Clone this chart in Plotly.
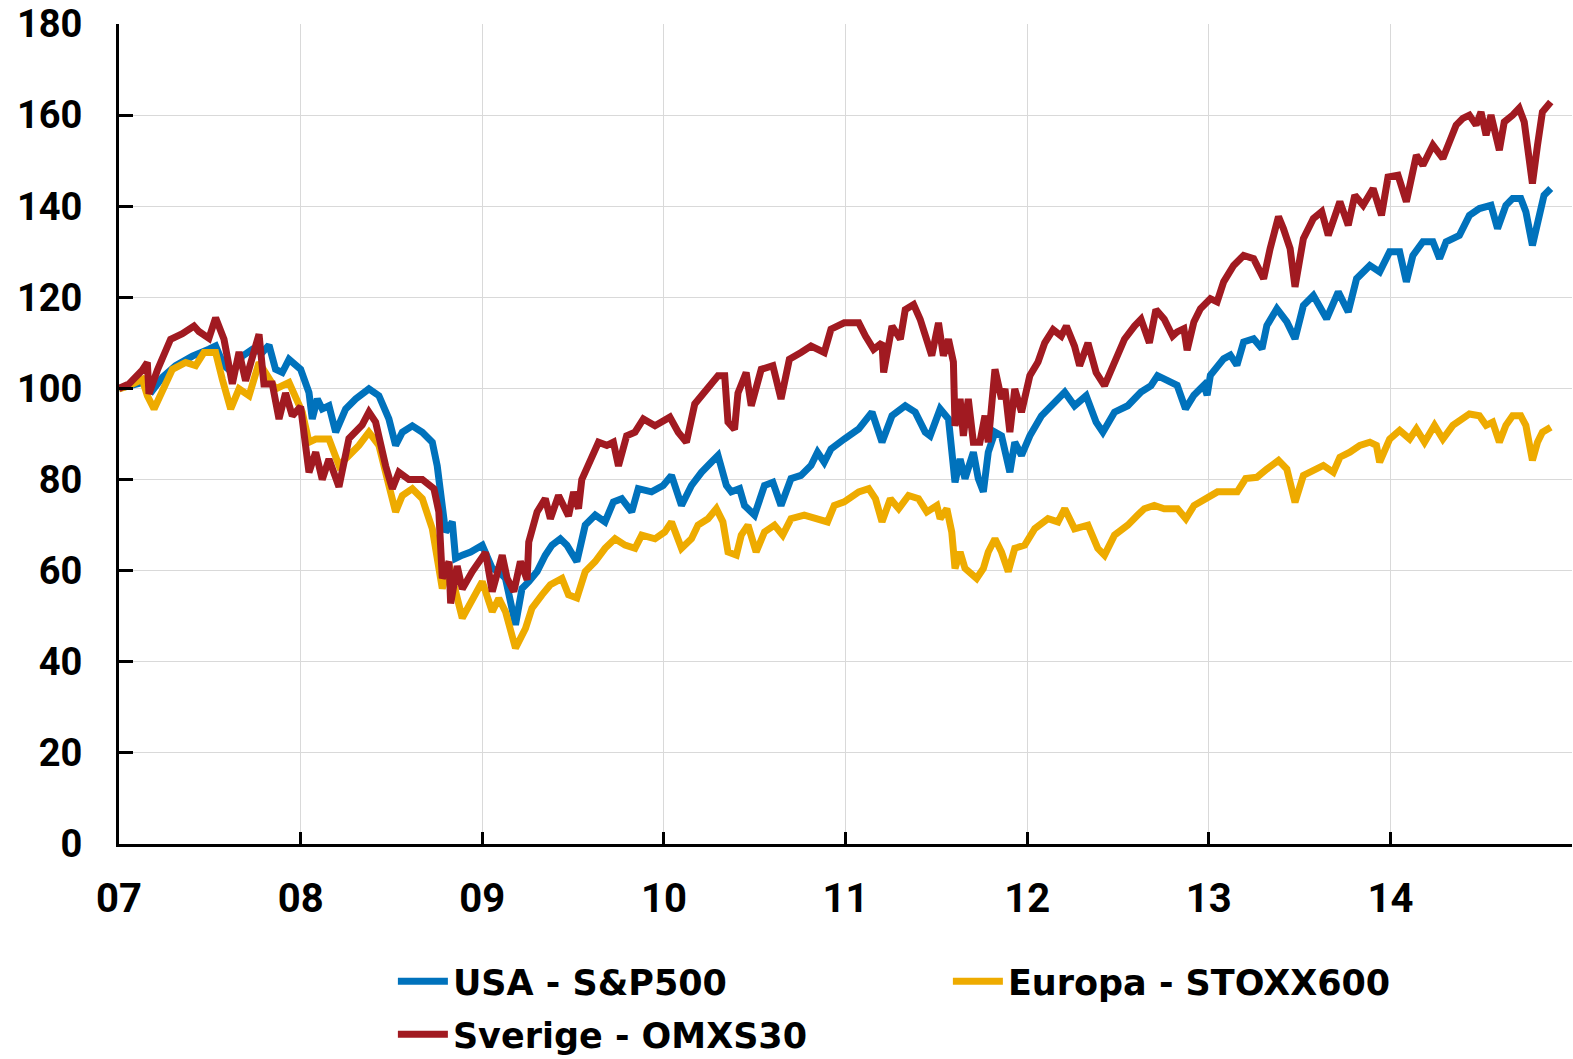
import plotly.graph_objects as go

# ---- data (x in fractional years) ----
usa_t = [2007.000, 2007.055, 2007.128, 2007.183, 2007.240, 2007.312, 2007.404, 2007.495, 2007.532, 2007.578,
         2007.624, 2007.679, 2007.734, 2007.789, 2007.826, 2007.862, 2007.899, 2007.936, 2007.972, 2008.000,
         2008.046, 2008.064, 2008.092, 2008.119, 2008.156, 2008.193, 2008.248, 2008.303, 2008.376, 2008.431,
         2008.486, 2008.523, 2008.560, 2008.615, 2008.670, 2008.725, 2008.752, 2008.780, 2008.798, 2008.835,
         2008.853, 2008.890, 2008.936, 2009.000, 2009.055, 2009.091, 2009.128, 2009.183, 2009.219, 2009.256,
         2009.302, 2009.347, 2009.384, 2009.430, 2009.466, 2009.521, 2009.567, 2009.622, 2009.676, 2009.722,
         2009.768, 2009.823, 2009.859, 2009.932, 2009.996, 2010.042, 2010.097, 2010.152, 2010.207, 2010.261,
         2010.298, 2010.344, 2010.371, 2010.417, 2010.444, 2010.499, 2010.554, 2010.600, 2010.645, 2010.700,
         2010.755, 2010.810, 2010.846, 2010.883, 2010.920, 2010.993, 2011.073, 2011.146, 2011.201, 2011.256,
         2011.329, 2011.384, 2011.439, 2011.466, 2011.521, 2011.567, 2011.603, 2011.631, 2011.658, 2011.704,
         2011.731, 2011.759, 2011.786, 2011.823, 2011.859, 2011.905, 2011.932, 2011.969, 2012.015, 2012.079,
         2012.152, 2012.207, 2012.261, 2012.325, 2012.380, 2012.417, 2012.481, 2012.554, 2012.627, 2012.682,
         2012.718, 2012.792, 2012.826, 2012.872, 2012.918, 2012.973, 2012.991, 2013.009, 2013.082, 2013.119,
         2013.155, 2013.192, 2013.247, 2013.293, 2013.320, 2013.375, 2013.430, 2013.475, 2013.521, 2013.576,
         2013.649, 2013.713, 2013.768, 2013.814, 2013.887, 2013.941, 2013.996, 2014.051, 2014.088, 2014.124,
         2014.179, 2014.234, 2014.271, 2014.307, 2014.380, 2014.435, 2014.490, 2014.554, 2014.590, 2014.636,
         2014.673, 2014.718, 2014.746, 2014.782, 2014.819, 2014.846, 2014.883]
usa_v = [100.0, 100.6, 101.3, 99.5, 102.5, 105.0, 107.1, 108.6, 109.3, 105.0,
         103.5, 107.1, 108.6, 107.9, 109.5, 104.2, 103.5, 106.4, 105.3, 104.2,
         99.1, 93.3, 97.7, 95.5, 96.2, 90.4, 95.5, 97.7, 99.9, 98.4,
         93.3, 87.5, 90.4, 91.8, 90.4, 88.2, 83.0, 72.9, 68.5, 70.7,
         62.7, 63.4, 64.1, 65.6, 60.5, 59.8, 58.3, 48.1, 56.1, 57.6,
         59.8, 63.4, 65.6, 67.0, 65.6, 62.0, 70.0, 72.2, 70.7, 75.1,
         75.8, 72.9, 78.0, 77.3, 78.7, 80.9, 74.3, 78.7, 81.6, 83.8,
         85.3, 78.7, 77.3, 78.0, 74.3, 72.2, 78.7, 79.4, 74.3, 80.2,
         80.9, 83.1, 86.0, 83.8, 86.7, 88.9, 91.1, 94.8, 88.2, 94.0,
         96.2, 94.8, 90.4, 89.6, 95.5, 93.3, 79.4, 84.5, 80.2, 86.0,
         80.2, 77.3, 86.0, 90.4, 89.6, 81.6, 88.2, 85.3, 89.6, 94.0,
         97.0, 99.2, 96.2, 98.4, 92.6, 90.4, 94.8, 96.2, 99.2, 100.6,
         102.8, 101.3, 100.7, 95.5, 98.5, 100.7, 98.5, 102.9, 106.5, 107.3,
         105.1, 110.2, 110.9, 108.7, 113.8, 117.5, 114.6, 110.9, 118.2, 120.4,
         115.3, 121.2, 116.8, 124.1, 127.0, 125.6, 130.0, 130.0, 123.4, 129.2,
         132.2, 132.2, 128.5, 132.2, 133.6, 138.0, 139.5, 140.2, 135.1, 140.2,
         141.7, 141.7, 138.8, 131.4, 138.8, 142.4, 143.9]

eur_t = [2007.000, 2007.055, 2007.128, 2007.156, 2007.193, 2007.239, 2007.294, 2007.367, 2007.422, 2007.468,
         2007.532, 2007.569, 2007.615, 2007.661, 2007.716, 2007.771, 2007.807, 2007.862, 2007.936, 2007.972,
         2008.009, 2008.046, 2008.083, 2008.156, 2008.211, 2008.266, 2008.321, 2008.376, 2008.431, 2008.486,
         2008.523, 2008.560, 2008.615, 2008.670, 2008.725, 2008.780, 2008.817, 2008.890, 2008.945, 2009.000,
         2009.055, 2009.091, 2009.128, 2009.183, 2009.238, 2009.274, 2009.329, 2009.375, 2009.439, 2009.475,
         2009.521, 2009.567, 2009.622, 2009.676, 2009.731, 2009.786, 2009.841, 2009.878, 2009.951, 2010.005,
         2010.042, 2010.097, 2010.152, 2010.188, 2010.243, 2010.289, 2010.325, 2010.353, 2010.399, 2010.426,
         2010.463, 2010.508, 2010.554, 2010.609, 2010.654, 2010.700, 2010.773, 2010.846, 2010.901, 2010.938,
         2010.993, 2011.073, 2011.128, 2011.165, 2011.201, 2011.247, 2011.293, 2011.347, 2011.402, 2011.448,
         2011.503, 2011.521, 2011.558, 2011.585, 2011.603, 2011.631, 2011.658, 2011.722, 2011.759, 2011.786,
         2011.823, 2011.859, 2011.896, 2011.932, 2011.987, 2012.042, 2012.115, 2012.170, 2012.207, 2012.261,
         2012.335, 2012.389, 2012.426, 2012.481, 2012.554, 2012.609, 2012.645, 2012.700, 2012.755, 2012.828,
         2012.874, 2012.919, 2012.992, 2013.048, 2013.102, 2013.157, 2013.203, 2013.265, 2013.320, 2013.384,
         2013.430, 2013.475, 2013.521, 2013.594, 2013.631, 2013.686, 2013.722, 2013.777, 2013.832, 2013.887,
         2013.923, 2013.941, 2013.996, 2014.051, 2014.106, 2014.143, 2014.188, 2014.243, 2014.289, 2014.344,
         2014.399, 2014.435, 2014.490, 2014.527, 2014.563, 2014.600, 2014.636, 2014.673, 2014.718, 2014.746,
         2014.782, 2014.810, 2014.837, 2014.883]
eur_v = [99.9, 100.6, 102.0, 98.4, 95.5, 99.9, 104.2, 105.7, 105.0, 107.9,
         107.9, 102.0, 95.5, 99.9, 98.4, 105.7, 103.5, 99.9, 101.3, 98.4,
         94.8, 88.2, 88.9, 88.9, 83.1, 85.3, 87.5, 90.4, 87.5, 78.7,
         72.9, 76.5, 78.0, 75.8, 69.2, 56.1, 61.2, 49.6, 53.9, 57.6,
         51.0, 53.9, 51.0, 43.0, 47.3, 51.8, 54.7, 56.9, 58.3, 54.7,
         54.0, 59.8, 62.0, 64.9, 67.0, 65.6, 64.9, 67.8, 67.0, 68.5,
         70.7, 64.9, 67.0, 70.0, 71.4, 73.6, 70.7, 64.1, 63.4, 67.8,
         70.0, 64.1, 68.5, 70.0, 67.8, 71.4, 72.2, 71.4, 70.7, 74.3,
         75.1, 77.3, 78.0, 75.8, 70.7, 75.8, 73.6, 76.5, 75.8, 72.9,
         74.3, 71.4, 73.6, 68.5, 60.5, 64.1, 60.5, 58.3, 60.5, 64.1,
         67.0, 64.1, 59.8, 64.9, 65.6, 69.2, 71.4, 70.7, 73.6, 69.2,
         70.0, 64.9, 63.4, 67.8, 70.0, 72.2, 73.6, 74.3, 73.6, 73.6,
         71.4, 74.3, 75.8, 77.3, 77.3, 77.3, 80.2, 80.5, 82.3, 84.2,
         82.3, 75.0, 80.9, 82.3, 83.1, 81.6, 84.9, 86.0, 87.5, 88.2,
         87.5, 83.8, 88.9, 90.8, 88.9, 91.1, 88.2, 91.9, 88.9, 91.9,
         93.3, 94.4, 94.0, 91.9, 92.6, 88.2, 91.9, 94.0, 94.0, 91.9,
         84.2, 88.2, 90.4, 91.5]

swe_t = [2007.000, 2007.055, 2007.128, 2007.156, 2007.165, 2007.211, 2007.284, 2007.349, 2007.413, 2007.440,
         2007.495, 2007.532, 2007.578, 2007.624, 2007.661, 2007.697, 2007.771, 2007.798, 2007.844, 2007.881,
         2007.917, 2007.954, 2008.000, 2008.046, 2008.083, 2008.119, 2008.156, 2008.211, 2008.266, 2008.339,
         2008.376, 2008.413, 2008.468, 2008.505, 2008.541, 2008.596, 2008.670, 2008.734, 2008.761, 2008.780,
         2008.817, 2008.826, 2008.862, 2008.890, 2008.945, 2009.018, 2009.055, 2009.082, 2009.110, 2009.137,
         2009.174, 2009.210, 2009.247, 2009.256, 2009.302, 2009.347, 2009.375, 2009.420, 2009.475, 2009.503,
         2009.530, 2009.548, 2009.603, 2009.640, 2009.686, 2009.722, 2009.750, 2009.795, 2009.841, 2009.887,
         2009.951, 2010.033, 2010.079, 2010.124, 2010.170, 2010.243, 2010.298, 2010.335, 2010.353, 2010.389,
         2010.408, 2010.453, 2010.481, 2010.536, 2010.600, 2010.645, 2010.691, 2010.755, 2010.810, 2010.883,
         2010.920, 2010.993, 2011.073, 2011.110, 2011.155, 2011.201, 2011.210, 2011.256, 2011.302, 2011.329,
         2011.375, 2011.411, 2011.475, 2011.512, 2011.539, 2011.567, 2011.594, 2011.603, 2011.631, 2011.649,
         2011.676, 2011.704, 2011.740, 2011.768, 2011.786, 2011.823, 2011.859, 2011.878, 2011.905, 2011.932,
         2011.969, 2012.015, 2012.060, 2012.097, 2012.143, 2012.188, 2012.216, 2012.261, 2012.289, 2012.335,
         2012.380, 2012.426, 2012.481, 2012.536, 2012.591, 2012.627, 2012.673, 2012.709, 2012.755, 2012.801,
         2012.826, 2012.863, 2012.881, 2012.918, 2012.954, 2013.009, 2013.046, 2013.082, 2013.137, 2013.192,
         2013.247, 2013.302, 2013.338, 2013.384, 2013.411, 2013.448, 2013.475, 2013.521, 2013.576, 2013.622,
         2013.658, 2013.722, 2013.768, 2013.804, 2013.850, 2013.905, 2013.951, 2013.987, 2014.042, 2014.088,
         2014.143, 2014.179, 2014.234, 2014.289, 2014.325, 2014.362, 2014.399, 2014.435, 2014.472, 2014.499,
         2014.527, 2014.554, 2014.600, 2014.627, 2014.673, 2014.709, 2014.737, 2014.764, 2014.782, 2014.810,
         2014.837, 2014.883]
swe_v = [100.0, 101.0, 104.0, 105.7, 98.8, 104.0, 110.8, 112.0, 113.7, 112.5,
         111.0, 115.5, 110.8, 101.0, 108.0, 101.7, 111.9, 101.0, 101.0, 93.3,
         99.0, 94.0, 96.0, 81.6, 86.0, 80.0, 84.5, 78.4, 89.0, 92.0,
         94.8, 92.6, 83.0, 78.0, 81.6, 80.0, 80.0, 78.0, 72.9, 58.3,
         62.0, 52.8, 61.0, 56.0, 59.8, 64.0, 55.4, 59.8, 63.4, 58.3,
         55.4, 62.0, 58.0, 66.3, 72.9, 75.8, 71.4, 76.5, 72.0, 77.3,
         73.6, 80.0, 84.5, 88.2, 87.5, 88.2, 83.0, 89.6, 90.4, 93.3,
         91.8, 93.7, 90.4, 88.2, 96.6, 99.9, 102.8, 102.8, 92.6, 91.0,
         99.0, 103.5, 96.2, 104.2, 105.0, 97.7, 106.4, 107.9, 109.3, 107.9,
         113.0, 114.4, 114.4, 111.5, 108.6, 110.0, 103.5, 113.7, 110.8, 117.3,
         118.4, 115.2, 107.2, 114.4, 107.2, 110.8, 105.8, 91.8, 97.7, 89.6,
         97.7, 88.2, 88.2, 94.0, 88.2, 104.2, 97.7, 99.9, 90.4, 99.9,
         94.8, 102.8, 105.8, 110.0, 112.9, 111.5, 113.7, 109.3, 105.0, 110.0,
         103.5, 100.6, 105.8, 110.8, 113.7, 115.2, 110.0, 117.3, 115.2, 111.5,
         112.4, 113.1, 108.4, 114.6, 117.5, 119.7, 119.0, 123.4, 127.0, 129.2,
         128.5, 124.1, 130.7, 137.7, 135.1, 130.7, 122.3, 132.9, 137.3, 138.8,
         133.6, 141.0, 135.8, 142.4, 140.2, 143.9, 138.0, 146.4, 146.8, 141.0,
         151.2, 149.0, 153.4, 150.5, 154.1, 157.8, 159.3, 160.0, 157.8, 160.7,
         155.6, 160.0, 152.3, 158.5, 160.0, 161.5, 158.5, 149.7, 145.0, 153.4,
         160.7, 162.9]

year_ticks = [2007, 2008, 2009, 2010, 2011, 2012, 2013, 2014]
year_labels = ["07", "08", "09", "10", "11", "12", "13", "14"]
y_ticks = [0, 20, 40, 60, 80, 100, 120, 140, 160, 180]

series = [
    ("USA - S&P500", usa_t, usa_v, "#0072BC", "legend"),
    ("Europa - STOXX600", eur_t, eur_v, "#EEAB00", "legend"),
    ("Sverige - OMXS30", swe_t, swe_v, "#A11A21", "legend2"),
]

XTICKFONT = dict(family="Roboto", size=40, color="black", weight="bold")
YTICKFONT = dict(family="Roboto", size=38, color="black", weight="bold")
LEGFONT = dict(family="DejaVu Sans", size=35, color="black", weight="bold")

fig = go.Figure()
for name, t, v, col, leg in series:
    fig.add_trace(go.Scatter(x=t, y=v, mode="lines", name=name, legend=leg,
                             line=dict(color=col, width=7)))

common_leg = dict(orientation="h", xanchor="left", yanchor="top",
                  entrywidth=490, entrywidthmode="pixels", itemwidth=50,
                  font=LEGFONT, traceorder="normal", bgcolor="rgba(0,0,0,0)")
fig.update_layout(
    width=1573, height=1059,
    margin=dict(l=119, r=1, t=24, b=215, autoexpand=False),
    paper_bgcolor="white", plot_bgcolor="white",
    font=dict(family="Roboto", size=36, color="black", weight="bold"),
    showlegend=True,
    legend=dict(x=0.1885, y=-0.1317, **common_leg),
    legend2=dict(x=0.1885, y=-0.1963, **common_leg),
)

fig.update_xaxes(range=[2007, 2015], tickvals=year_ticks, ticktext=year_labels,
                 showgrid=True, gridcolor="#D9D9D9", gridwidth=1,
                 showline=True, linecolor="black", linewidth=3,
                 ticks="inside", ticklen=12, tickwidth=3, tickcolor="black",
                 tickfont=XTICKFONT, ticklabelstandoff=17, zeroline=False,
                 automargin=False, ticklabeloverflow="allow")
fig.update_yaxes(range=[0, 180], tickvals=y_ticks,
                 showgrid=True, gridcolor="#D9D9D9", gridwidth=1,
                 showline=True, linecolor="black", linewidth=3,
                 ticks="inside", ticklen=14, tickwidth=3, tickcolor="black",
                 tickfont=YTICKFONT, ticklabelstandoff=26, zeroline=False,
                 automargin=False, ticklabeloverflow="allow")

# remove the browser's default 8px page margin so the figure fills the window exactly
fig.write_html("out.html", config={"displayModeBar": False},
               post_script="document.body.style.margin='0';")
